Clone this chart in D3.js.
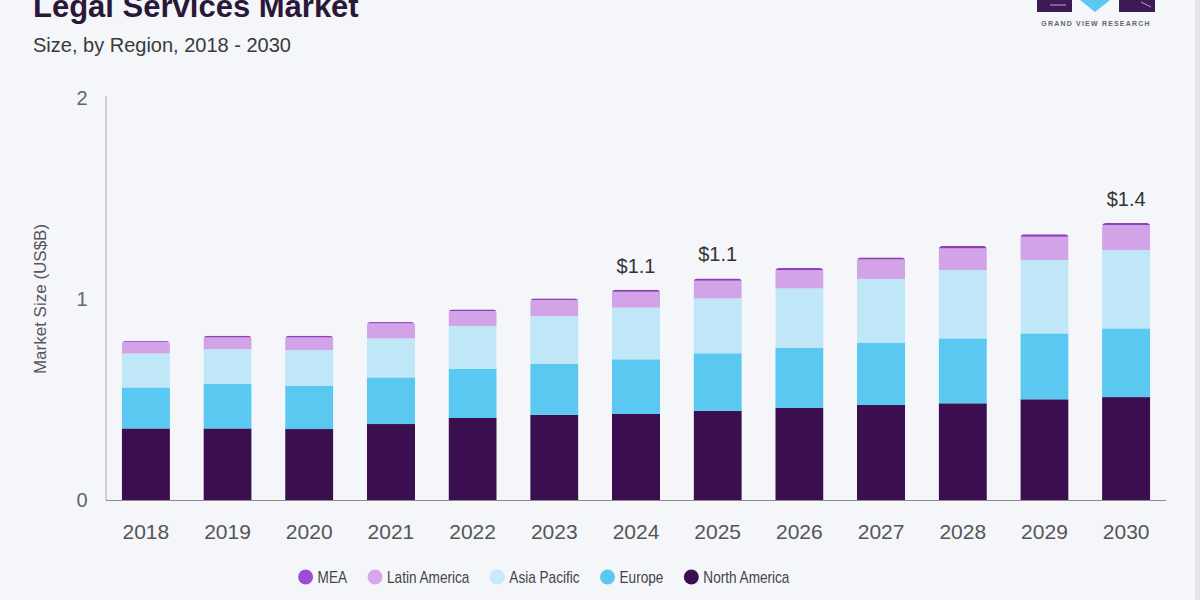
<!DOCTYPE html>
<html>
<head>
<meta charset="utf-8">
<script src="https://cdn.jsdelivr.net/npm/d3@7"></script>
<style>
  html, body { margin: 0; padding: 0; background: #f4f6fa; }
  svg { display: block; font-family: "Liberation Sans", Arial, sans-serif; }
</style>
</head>
<body>
<div id="chart"></div>
<script>
var years = ["2018", "2019", "2020", "2021", "2022", "2023", "2024", "2025", "2026", "2027", "2028", "2029", "2030"];
var northAmerica = [0.356, 0.356, 0.353, 0.378, 0.408, 0.424, 0.428, 0.444, 0.459, 0.473, 0.481, 0.501, 0.512];
var europe       = [0.204, 0.221, 0.216, 0.232, 0.244, 0.253, 0.272, 0.286, 0.299, 0.310, 0.323, 0.328, 0.342];
var asiaPacific  = [0.169, 0.173, 0.177, 0.194, 0.214, 0.238, 0.257, 0.273, 0.295, 0.317, 0.340, 0.365, 0.390];
var latinAmerica = [0.058, 0.059, 0.063, 0.075, 0.074, 0.080, 0.079, 0.088, 0.091, 0.097, 0.108, 0.116, 0.124];
var mea          = [0.004, 0.008, 0.008, 0.006, 0.008, 0.008, 0.010, 0.011, 0.010, 0.010, 0.012, 0.012, 0.010];
var yTicks = [0, 1, 2];
var valueLabels = [
    { year: "2024", label: "$1.1" },
    { year: "2025", label: "$1.1" },
    { year: "2030", label: "$1.4" }
];

var seriesKeys = ["North America", "Europe", "Asia Pacific", "Latin America", "MEA"];
var seriesValues = [northAmerica, europe, asiaPacific, latinAmerica, mea];
var legendOrder = ["MEA", "Latin America", "Asia Pacific", "Europe", "North America"];

var color = d3.scaleOrdinal()
    .domain(seriesKeys)
    .range(["#3b0f4f", "#5bc8f2", "#bfe7f8", "#d3a3e8", "#8e3fb8"]);
var legendColor = { "MEA": "#9b4dd6", "Latin America": "#d6a8ea", "Asia Pacific": "#c6eaf8", "Europe": "#5bc8f2", "North America": "#3b0f4f" };

var width = 1200, height = 600;

var table = years.map(function(y, i) {
    var row = { year: y };
    seriesKeys.forEach(function(k, j) { row[k] = seriesValues[j][i]; });
    return row;
});

var stacked = d3.stack().keys(seriesKeys)(table);

var x = d3.scaleBand()
    .domain(years)
    .range([105, 1167])
    .paddingInner(0.41)
    .paddingOuter(0.205);

var y = d3.scaleLinear()
    .domain([0, 2])
    .range([500, 98]);

var svg = d3.select("#chart").append("svg")
    .attr("width", width)
    .attr("height", height);

svg.append("rect")
    .attr("width", width)
    .attr("height", height)
    .attr("fill", "#f4f6fa");

// right frame edge
svg.append("rect")
    .attr("x", 1195)
    .attr("y", 0)
    .attr("width", 5)
    .attr("height", height)
    .attr("fill", "#e3e5ea");

// title (cut off at top like the source image)
svg.append("text")
    .attr("x", 33)
    .attr("y", 17)
    .style("font-size", "31px")
    .style("font-weight", "bold")
    .style("fill", "#2b1838")
    .text("Legal Services Market");

svg.append("text")
    .attr("x", 33)
    .attr("y", 52)
    .style("font-size", "20px")
    .style("fill", "#3a3a3a")
    .text("Size, by Region, 2018 - 2030");

// logo fragment
var logo = svg.append("g");
logo.append("rect").attr("x", 1037).attr("y", -4).attr("width", 35).attr("height", 16).attr("fill", "#3b1a55");
logo.append("line").attr("x1", 1050).attr("x2", 1066).attr("y1", 5).attr("y2", 5).attr("stroke", "#b9a8c8").attr("stroke-width", 1);
logo.append("path").attr("d", "M1080,0 L1110,0 L1095,12 Z").attr("fill", "#5bc8f2");
logo.append("rect").attr("x", 1119).attr("y", -4).attr("width", 36).attr("height", 16).attr("fill", "#3b1a55");
logo.append("line").attr("x1", 1141).attr("x2", 1151).attr("y1", 2).attr("y2", 7).attr("stroke", "#b9a8c8").attr("stroke-width", 1);
logo.append("text")
    .attr("x", 1096)
    .attr("y", 26)
    .attr("text-anchor", "middle")
    .style("font-size", "7px")
    .style("font-weight", "bold")
    .style("letter-spacing", "1.2px")
    .style("fill", "#666")
    .text("GRAND VIEW RESEARCH");

// axes
svg.append("line")
    .attr("x1", 106).attr("x2", 106)
    .attr("y1", y(2) - 2).attr("y2", y(0))
    .attr("stroke", "#a8a8a8")
    .attr("stroke-width", 1);

svg.selectAll(".ytick")
    .data(yTicks)
    .enter().append("text")
    .attr("class", "ytick")
    .attr("x", 82)
    .attr("y", function(d) { return y(d); })
    .attr("dy", "0.35em")
    .attr("text-anchor", "middle")
    .style("font-size", "20px")
    .style("fill", "#666")
    .text(function(d) { return d; });

svg.append("text")
    .attr("transform", "translate(46," + y(1) + ") rotate(-90)")
    .attr("text-anchor", "middle")
    .style("font-size", "17px")
    .style("fill", "#555")
    .text("Market Size (US$B)");

// bars, each clipped to a rounded top
var defs = svg.append("defs");
years.forEach(function(yr, i) {
    var top = d3.max(stacked, function(s) { return s[i][1]; });
    defs.append("clipPath")
        .attr("id", "clip-" + yr)
      .append("rect")
        .attr("x", x(yr))
        .attr("y", y(top))
        .attr("width", x.bandwidth())
        .attr("height", y(0) - y(top) + 6)
        .attr("rx", 4);
});

var layer = svg.selectAll(".layer")
    .data(stacked)
    .enter().append("g")
    .attr("class", "layer")
    .attr("fill", function(d) { return color(d.key); });

layer.selectAll("rect")
    .data(function(d) { return d; })
    .enter().append("rect")
    .attr("x", function(d) { return x(d.data.year); })
    .attr("y", function(d) { return y(d[1]); })
    .attr("width", x.bandwidth())
    .attr("height", function(d) { return y(d[0]) - y(d[1]); })
    .attr("clip-path", function(d) { return "url(#clip-" + d.data.year + ")"; });

svg.append("line")
    .attr("x1", 106).attr("x2", 1166)
    .attr("y1", y(0) + 0.5).attr("y2", y(0) + 0.5)
    .attr("stroke", "#8a8a8a")
    .attr("stroke-width", 1);

svg.selectAll(".xtick")
    .data(years)
    .enter().append("text")
    .attr("class", "xtick")
    .attr("x", function(d) { return x(d) + x.bandwidth() / 2; })
    .attr("y", 539)
    .attr("text-anchor", "middle")
    .style("font-size", "21px")
    .style("fill", "#555")
    .text(function(d) { return d; });

// value labels
svg.selectAll(".vlabel")
    .data(valueLabels)
    .enter().append("text")
    .attr("class", "vlabel")
    .attr("x", function(d) { return x(d.year) + x.bandwidth() / 2; })
    .attr("y", function(d) {
        var i = years.indexOf(d.year);
        return y(d3.max(stacked, function(s) { return s[i][1]; })) - 17;
    })
    .attr("text-anchor", "middle")
    .style("font-size", "20px")
    .style("fill", "#333")
    .text(function(d) { return d.label; });

// legend (narrow text, as in the source)
var legend = svg.append("g").attr("class", "legend");
var lx = 0;
legendOrder.forEach(function(k) {
    var item = legend.append("g").attr("transform", "translate(" + lx + ",0)");
    item.append("circle")
        .attr("cx", 7)
        .attr("cy", 0)
        .attr("r", 7.5)
        .attr("fill", legendColor[k]);
    var t = item.append("text")
        .attr("transform", "translate(19,0) scale(0.85,1)")
        .attr("dy", "0.35em")
        .style("font-size", "16px")
        .style("fill", "#444")
        .text(k);
    lx += 19 + t.node().getComputedTextLength() * 0.85 + 21;
});
var legendWidth = lx - 21;
legend.attr("transform", "translate(" + (544 - legendWidth / 2) + ",577)");
</script>
</body>
</html>
